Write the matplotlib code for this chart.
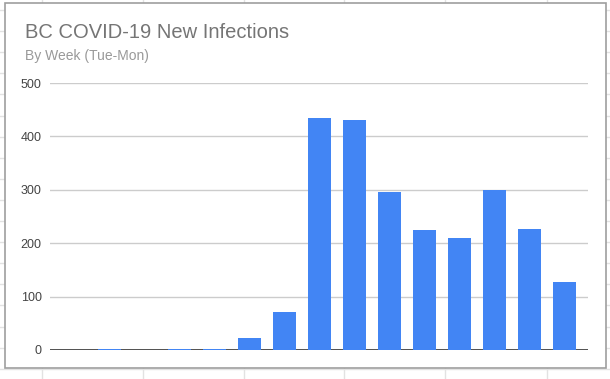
import numpy as np
import matplotlib.pyplot as plt
from matplotlib.lines import Line2D
from matplotlib.patches import Rectangle

# weekly new infections (Tue-Mon weeks)
weeks = list(range(1, 16))
new_cases = [0, 2, 0, 2, 2, 22, 71, 435, 431, 295, 224, 209, 299, 226, 128]
y_ticks = [0, 100, 200, 300, 400, 500]

W, H = 610, 379
fig = plt.figure(figsize=(W / 100, H / 100), dpi=100)
fig.patch.set_facecolor('white')

# spreadsheet cells behind the chart
for x in [42, 143, 244, 344, 445, 547]:
    fig.add_artist(Line2D([x / W, x / W], [0, 1], color='#e2e2e2', lw=1, zorder=-3))
for k in range(19):
    y = 10 + 21.1 * k
    fig.add_artist(Line2D([0, 1], [1 - y / H, 1 - y / H], color='#e2e2e2', lw=1, zorder=-3))

# chart frame
fig.add_artist(Rectangle((5 / W, 1 - 368 / H), 601 / W, 365 / H, facecolor='white',
                         edgecolor='#9e9e9e', lw=1.2, transform=fig.transFigure, zorder=-2))

fig.text(25 / W, 1 - 32 / H, 'BC COVID-19 New Infections', fontsize=14.5,
         color='#757575', family='Liberation Sans', va='center')
fig.text(25 / W, 1 - 56 / H, 'By Week (Tue-Mon)', fontsize=10,
         color='#999999', family='Liberation Sans', va='center')

ax = fig.add_axes([50 / W, 1 - 350 / H, 537.7 / W, 267 / H])
ax.set_facecolor('none')
x = np.arange(len(weeks))
ax.bar(x, new_cases, width=0.657, color='#4285f4', zorder=3)

ax.set_ylim(0, 500)
ax.set_xlim(-0.69, len(weeks) - 1 + 0.65)
ax.set_yticks(y_ticks)
ax.set_yticklabels([str(t) for t in y_ticks], family='Liberation Sans',
                   fontsize=9, color='#444444')
ax.tick_params(axis='y', length=0, pad=6)
ax.set_xticks([])
for t in y_ticks[1:]:
    ax.axhline(t, color='#cccccc', lw=1, zorder=1)
ax.axhline(0, color='#333333', lw=1.2, zorder=2)
for s in ax.spines.values():
    s.set_visible(False)

fig.savefig('out.png', dpi=100)
